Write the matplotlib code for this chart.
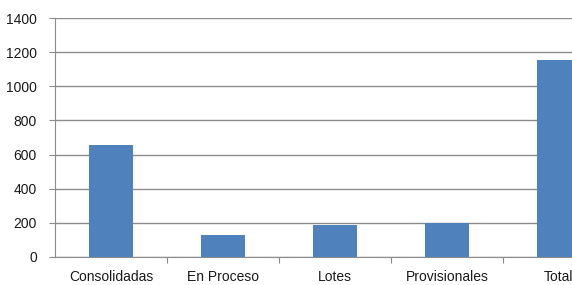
import matplotlib.pyplot as plt

categories = ["Consolidadas", "En Proceso", "Lotes", "Provisionales", "Total"]
values = [658, 128, 185, 202, 1152]
yticks = [0, 200, 400, 600, 800, 1000, 1200, 1400]

plt.rcParams["font.family"] = ["Liberation Sans", "DejaVu Sans"]

fig = plt.figure(figsize=(5.72, 2.85), dpi=100)
# plot area runs past the right edge, as in the reference
ax = fig.add_axes([55 / 572, 28 / 285, 560 / 572, 239 / 285])

x = range(len(categories))
ax.bar(x, values, width=0.39, color="#4F81BD", zorder=3)

ax.set_xlim(-0.5, len(categories) - 0.5)
ax.set_ylim(0, 1400)
ax.set_yticks(yticks)
ax.yaxis.grid(True, color="#8c8c8c", linewidth=1, zorder=0)

ax.set_xticks([i + 0.5 for i in range(len(categories) - 1)])
ax.set_xticklabels([])
ax.set_xticks(list(x), minor=True)
ax.set_xticklabels(categories, minor=True, fontsize=10, color="#1a1a1a")
ax.tick_params(axis="x", which="minor", length=0, pad=9.5)
ax.tick_params(axis="x", which="major", length=4, color="#8c8c8c", direction="out")
ax.tick_params(axis="y", length=4, color="#8c8c8c", labelsize=10, labelcolor="#1a1a1a", pad=9)

for side in ["top", "right"]:
    ax.spines[side].set_visible(False)
ax.spines["left"].set_color("#8c8c8c")
ax.spines["bottom"].set_color("#8c8c8c")

fig.savefig("out.png", dpi=100)
